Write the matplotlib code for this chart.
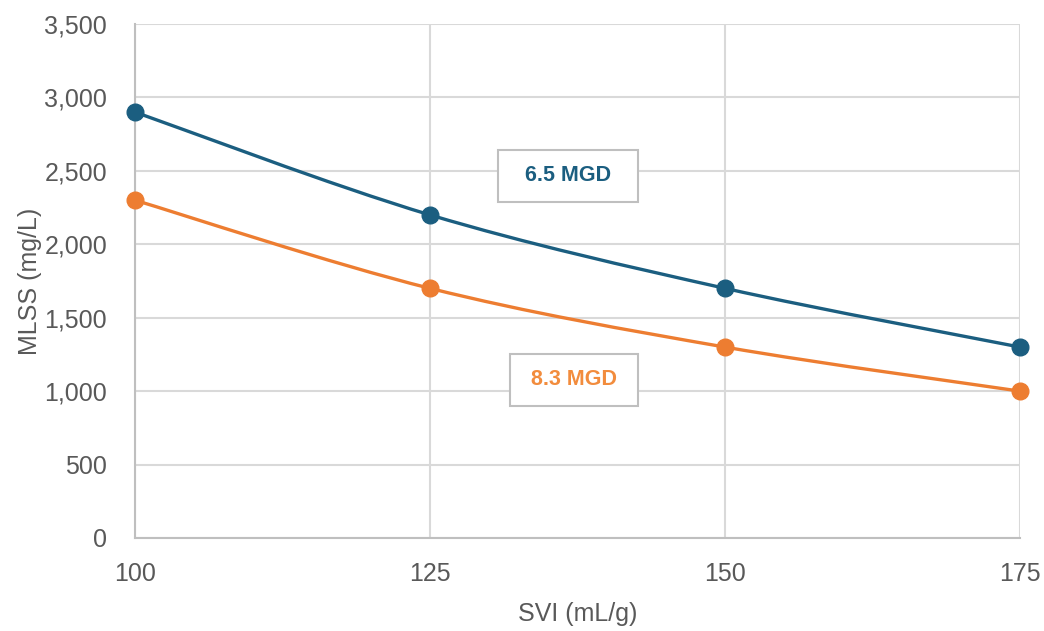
import numpy as np
import matplotlib.pyplot as plt
from matplotlib.path import Path
from matplotlib.patches import PathPatch
from matplotlib import font_manager

svi = [100, 125, 150, 175]
mlss_65 = [2900, 2200, 1700, 1300]
mlss_83 = [2300, 1700, 1300, 1000]
x_ticks = [100, 125, 150, 175]
y_ticks = [0, 500, 1000, 1500, 2000, 2500, 3000, 3500]

BLUE = '#1B5E80'
ORANGE = '#ED7D31'
GRID = '#D9D9D9'
TEXT = '#595959'

names = {f.name for f in font_manager.fontManager.ttflist}
family = 'Liberation Sans Narrow' if 'Liberation Sans Narrow' in names else 'Liberation Sans'
plt.rcParams['font.family'] = [family, 'DejaVu Sans']


def smooth_path(x, y):
    """Bezier path through the points, like a spreadsheet 'smoothed line'."""
    x = np.asarray(x, float)
    y = np.asarray(y, float)
    verts = [(x[0], y[0])]
    codes = [Path.MOVETO]
    n = len(x)
    for i in range(n - 1):
        i0 = max(i - 1, 0)
        i3 = min(i + 2, n - 1)
        c1 = (x[i] + (x[i + 1] - x[i0]) / 6, y[i] + (y[i + 1] - y[i0]) / 6)
        c2 = (x[i + 1] - (x[i3] - x[i]) / 6, y[i + 1] - (y[i3] - y[i]) / 6)
        verts += [c1, c2, (x[i + 1], y[i + 1])]
        codes += [Path.CURVE4] * 3
    return Path(verts, codes)


fig = plt.figure(figsize=(10.44, 6.31), dpi=100)
ax = fig.add_axes([0.1293, 0.1474, 0.8477, 0.8146])

for yv, col in [(mlss_65, BLUE), (mlss_83, ORANGE)]:
    ax.add_patch(PathPatch(smooth_path(svi, yv), facecolor='none', edgecolor=col, lw=2.4, zorder=3))
    ax.plot(svi, yv, 'o', color=col, markersize=12, zorder=4, clip_on=False)

ax.set_xlim(100, 175)
ax.set_ylim(0, 3500)
ax.set_xticks(x_ticks)
ax.set_yticks(y_ticks)
ax.set_yticklabels([f'{v:,}' for v in y_ticks])
ax.grid(True, color=GRID, lw=1.5)
ax.set_axisbelow(True)
for s in ['top', 'right']:
    ax.spines[s].set_visible(False)
for s in ['left', 'bottom']:
    ax.spines[s].set_color('#BFBFBF')
    ax.spines[s].set_linewidth(1.5)
ax.tick_params(length=0, labelsize=18, colors=TEXT)
ax.tick_params(axis='x', pad=17)
ax.tick_params(axis='y', pad=20)
ax.set_xlabel('SVI (mL/g)', fontsize=18, color=TEXT, labelpad=12)
ax.set_ylabel('MLSS (mg/L)', fontsize=18, color=TEXT)
ax.yaxis.set_label_coords(-0.105, 0.5)

box = dict(boxstyle='square,pad=0.7', facecolor='white', edgecolor='#BFBFBF', lw=1.5)
ax.text(136.7, 2465, '  6.5 MGD  ', color=BLUE, fontsize=15.5, fontweight='bold',
        ha='center', va='center', bbox=box, zorder=5)
ax.text(137.2, 1076, ' 8.3 MGD ', color='#F28C3D', fontsize=15.5, fontweight='bold',
        ha='center', va='center', bbox=box, zorder=5)

fig.savefig('out.png', dpi=100)
